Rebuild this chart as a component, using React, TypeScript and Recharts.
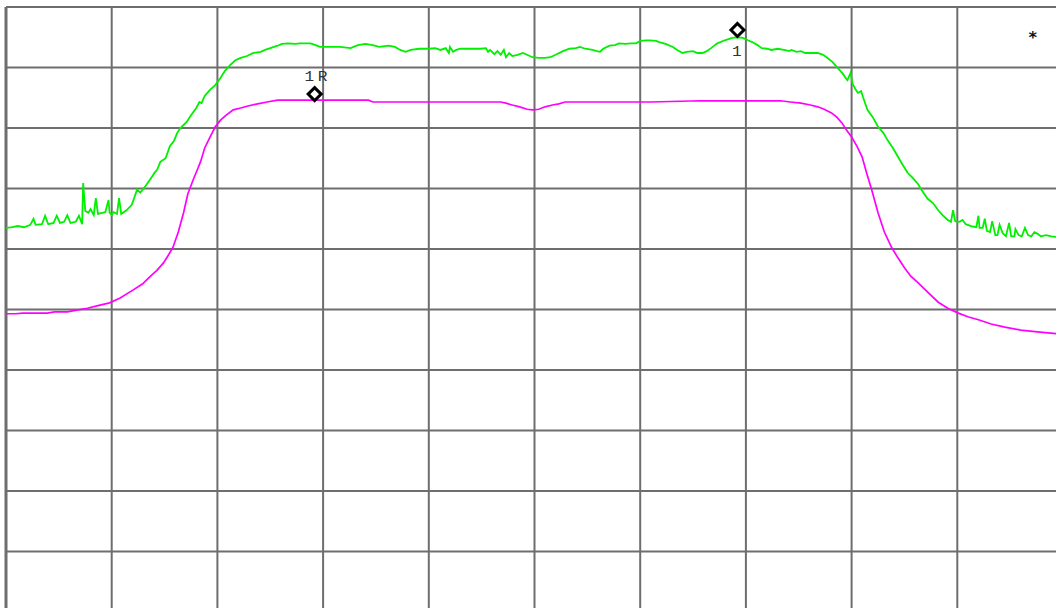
import React from "react";
import { LineChart, Line, XAxis, YAxis, CartesianGrid, ReferenceLine, ReferenceDot } from "recharts";

// Frequency axis: 0..1000 (100 per division), level axis: 0..-100 dB (10 dB per division)
const xTicks = [0, 100, 200, 300, 400, 500, 600, 700, 800, 900, 1000];
const yTicks = [0, -10, -20, -30, -40, -50, -60, -70, -80, -90, -100];

// Max-hold style trace (green)
const greenFreq = [
  0, 6, 11, 17, 23, 26, 28, 34, 37, 40, 45, 48, 51, 55, 58, 61, 66, 69, 72, 73, 75, 78, 80, 83, 85, 87, 92, 94, 97, 98,
  100, 102, 105, 107, 109, 114, 119, 124, 127, 132, 136, 141, 143, 146, 151, 155, 159, 162, 165, 168, 171, 175, 180, 183,
  185, 188, 193, 198, 203, 207, 212, 217, 222, 228, 234, 241, 245, 250, 257, 261, 267, 274, 278, 283, 288, 293, 297, 307,
  316, 326, 333, 340, 347, 353, 362, 368, 373, 378, 383, 391, 400, 406, 411, 416, 419, 420, 423, 426, 430, 439, 449, 454,
  456, 458, 462, 465, 468, 471, 473, 476, 479, 484, 489, 493, 498, 504, 510, 515, 520, 527, 533, 539, 543, 548, 555, 559,
  562, 565, 571, 576, 580, 586, 591, 596, 600, 606, 609, 615, 618, 624, 631, 635, 640, 644, 650, 654, 659, 663, 667, 673,
  680, 687, 692, 697, 702, 706, 711, 715, 720, 724, 730, 736, 741, 743, 748, 752, 756, 761, 768, 773, 777, 782, 787, 792,
  795, 796, 799, 801, 804, 806, 809, 811, 815, 820, 825, 830, 834, 839, 844, 848, 853, 858, 863, 866, 872, 877, 882, 886,
  891, 894, 896, 898, 902, 905, 908, 913, 918, 920, 921, 924, 926, 928, 931, 933, 936, 938, 940, 943, 946, 949, 951, 954,
  955, 958, 961, 964, 967, 970, 973, 976, 979, 984, 989, 993, 1000,
];
const greenLevel = [
  -36.5, -36.4, -36.2, -36.4, -36.0, -35.0, -36.0, -35.9, -34.5, -35.9, -35.7, -34.5, -35.7, -35.5, -34.4, -35.7, -35.5,
  -34.5, -35.9, -29.1, -33.7, -34.0, -33.4, -34.4, -31.6, -34.2, -34.0, -33.9, -31.9, -34.0, -34.4, -33.9, -34.2, -31.6,
  -34.2, -33.6, -32.7, -30.2, -30.7, -29.6, -28.6, -27.3, -26.9, -25.6, -25.0, -23.0, -22.1, -20.8, -20.0, -19.5, -19.0,
  -17.9, -16.7, -15.7, -15.9, -14.7, -13.7, -12.9, -11.7, -10.6, -9.6, -8.8, -8.4, -8.1, -7.6, -7.4, -7.1, -6.8, -6.4,
  -6.1, -6.0, -6.1, -6.0, -6.0, -6.0, -6.3, -6.6, -6.6, -6.6, -6.8, -6.3, -6.1, -6.3, -6.6, -6.4, -6.6, -7.1, -7.4, -7.1,
  -6.9, -6.9, -6.8, -7.1, -6.8, -7.6, -6.6, -7.4, -7.1, -6.9, -6.9, -6.9, -6.8, -7.4, -7.1, -7.8, -7.3, -7.9, -7.1, -8.3,
  -7.6, -8.1, -7.9, -7.6, -7.9, -8.3, -8.4, -8.4, -8.3, -7.9, -7.3, -6.9, -6.8, -6.6, -6.9, -7.1, -7.3, -7.4, -6.9, -6.4,
  -6.3, -6.0, -6.1, -6.0, -6.0, -5.6, -5.5, -5.5, -5.6, -5.8, -6.1, -6.6, -7.1, -7.6, -7.4, -7.3, -7.6, -7.6, -7.3, -6.8,
  -6.0, -5.5, -5.1, -5.0, -5.1, -5.5, -5.8, -6.3, -6.8, -6.9, -7.1, -6.9, -7.1, -7.3, -7.1, -7.4, -7.3, -7.6, -7.6, -7.6,
  -7.9, -8.4, -9.1, -10.1, -11.1, -11.9, -12.1, -10.9, -12.7, -13.7, -14.2, -13.9, -15.0, -17.0, -18.2, -19.8, -20.8,
  -22.0, -23.3, -24.8, -26.0, -27.4, -28.3, -29.3, -30.2, -31.7, -32.4, -33.6, -34.4, -35.2, -35.5, -33.6, -35.4, -35.5,
  -35.2, -35.9, -36.2, -36.4, -34.5, -36.5, -36.5, -35.0, -37.0, -37.2, -35.4, -37.7, -37.7, -36.0, -37.4, -37.9, -35.7,
  -37.9, -37.9, -36.7, -37.7, -37.9, -36.5, -37.7, -37.9, -37.2, -37.5, -37.9, -37.7, -37.9, -38.0, -37.9,
];

// Clear/write averaged trace (magenta)
const magentaFreq = [
  0, 9, 16, 23, 32, 39, 46, 58, 67, 77, 86, 98, 108, 120, 129, 136, 143, 149, 153, 158, 163, 168, 172, 177, 181, 184, 188,
  193, 198, 203, 208, 215, 222, 228, 238, 247, 257, 278, 307, 343, 347, 373, 420, 468, 473, 479, 486, 493, 498, 504, 510,
  517, 523, 529, 563, 610, 657, 695, 733, 742, 752, 761, 768, 774, 781, 786, 791, 795, 800, 805, 810, 814, 819, 825, 831,
  838, 844, 850, 856, 863, 870, 882, 891, 901, 910, 920, 932, 945, 960, 976, 994,
];
const magentaLevel = [
  -50.7, -50.7, -50.6, -50.6, -50.6, -50.6, -50.4, -50.4, -50.1, -49.8, -49.4, -48.9, -48.1, -46.8, -45.8, -44.6, -43.5,
  -42.3, -41.2, -39.7, -37.2, -34.0, -30.9, -28.6, -26.9, -25.6, -23.3, -21.5, -19.8, -18.7, -17.9, -17.0, -16.7, -16.4,
  -16.0, -15.7, -15.4, -15.4, -15.4, -15.4, -15.7, -15.7, -15.7, -15.7, -15.9, -16.2, -16.5, -16.9, -17.0, -16.9, -16.5,
  -16.2, -16.0, -15.7, -15.7, -15.7, -15.5, -15.5, -15.5, -15.7, -15.9, -16.2, -16.5, -16.9, -17.5, -18.2, -19.2, -20.3,
  -21.5, -23.0, -24.8, -27.3, -30.2, -34.0, -37.2, -39.8, -41.5, -43.1, -44.5, -45.6, -46.8, -48.8, -49.8, -50.6, -51.2,
  -51.7, -52.4, -52.9, -53.4, -53.7, -54.0,
];

// Markers: name, frequency, level of the marker symbol
const markerNames = ["1R", "1"];
const markerFreq = [292, 692];
const markerLevel = [-14.4, -3.8];
const markerLabelAbove = [true, false];

const greenData = greenFreq.map((f, i) => ({ f, v: greenLevel[i] }));
const magentaData = magentaFreq.map((f, i) => ({ f, v: magentaLevel[i] }));

const GRID = "#6e6e6e";

const Diamond = (label: string, above: boolean) => (props: any) => {
  const { cx, cy } = props;
  if (cx == null || cy == null) return null;
  const r = 6.5;
  return (
    <g>
      <path
        d={`M${cx},${cy - r} L${cx + r},${cy} L${cx},${cy + r} L${cx - r},${cy} Z`}
        fill="none"
        stroke="#000"
        strokeWidth={3}
        strokeLinejoin="miter"
      />
      <text
        x={above ? cx + 3 : cx + 1}
        y={above ? cy - 13 : cy + 26}
        textAnchor="middle"
        fontFamily="Liberation Mono, DejaVu Sans Mono, monospace"
        fontSize={14}
        letterSpacing={3}
        fill="#333"
        transform={`translate(${above ? cx + 3 : cx + 1}, 0) scale(1.15, 1) translate(${-(above ? cx + 3 : cx + 1)}, 0)`}
      >
        {label}
      </text>
    </g>
  );
};

export default function App() {
  return (
    <div
      style={{
        position: "fixed",
        left: 0,
        top: 0,
        width: 1056,
        height: 608,
        overflow: "hidden",
        background: "#fff",
      }}
    >
      <LineChart
        width={1075}
        height={620}
        margin={{ top: 7, left: 6, right: 12, bottom: 8 }}
        style={{ background: "#fff" }}
      >
        <XAxis type="number" dataKey="f" domain={[0, 1000]} ticks={xTicks} hide allowDataOverflow />
        <YAxis type="number" dataKey="v" domain={[-100, 0]} ticks={yTicks} hide allowDataOverflow />
        <CartesianGrid stroke={GRID} strokeWidth={2} vertical horizontal />
        <ReferenceLine x={0} stroke={GRID} strokeWidth={3} />
        <ReferenceLine y={0} stroke={GRID} strokeWidth={2} />
        <Line
          data={magentaData}
          dataKey="v"
          type="linear"
          stroke="#ff00ff"
          strokeWidth={1.7}
          dot={false}
          isAnimationActive={false}
        />
        <Line
          data={greenData}
          dataKey="v"
          type="linear"
          stroke="#00f000"
          strokeWidth={1.8}
          dot={false}
          isAnimationActive={false}
        />
        {markerNames.map((name, i) => (
          <ReferenceDot
            key={name}
            x={markerFreq[i]}
            y={markerLevel[i]}
            r={7}
            shape={Diamond(name, markerLabelAbove[i])}
          />
        ))}
      </LineChart>
      <div
        style={{
          position: "absolute",
          left: 1028,
          top: 30,
          fontFamily: "DejaVu Sans Mono, monospace",
          fontWeight: "bold",
          fontSize: 16,
          color: "#111",
          lineHeight: "16px",
        }}
      >
        *
      </div>
    </div>
  );
}
